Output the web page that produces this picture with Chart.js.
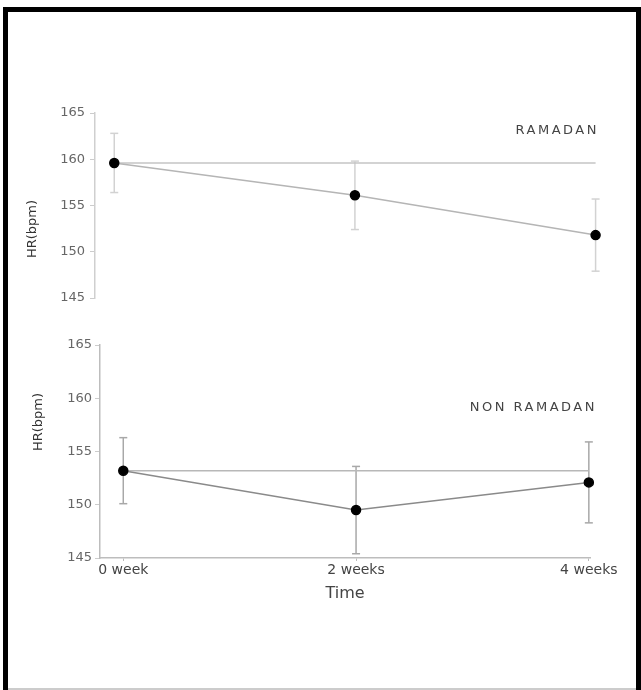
<!DOCTYPE html>
<html>
<head>
<meta charset="utf-8">
<script src="https://cdn.jsdelivr.net/npm/chart.js@4.4.0/dist/chart.umd.min.js"></script>
<style>
  body { margin: 0; background: #fff; }
  #marco { position: relative; width: 641px; height: 690px; background: #fff; overflow: hidden; }
  .borde { position: absolute; background: #000; }
  canvas { position: absolute; left: 0; }
  .texto { position: absolute; font-family: 'DejaVu Sans', sans-serif; color: #444; white-space: nowrap; line-height: 14px; }
  .grupo { font-size: 13px; letter-spacing: 2.5px; }
  .ejeY { font-size: 13px; color: #333; transform: translate(-50%, -50%) rotate(-90deg); }
</style>
</head>
<body>
<div id="marco">
  <div class="borde" style="left:3px; top:7px; width:638px; height:5px;"></div>
  <div class="borde" style="left:3px; top:7px; width:5px; height:683px;"></div>
  <div class="borde" style="left:636px; top:7px; width:5px; height:683px;"></div>
  <div class="borde" style="left:8px; top:688px; width:628px; height:2px; background:#ccc;"></div>

  <canvas id="graficaRamadan" width="641" height="212" style="top:100px;"></canvas>
  <canvas id="graficaNoRamadan" width="641" height="280" style="top:330px;"></canvas>

  <div class="texto grupo" style="right:42px; top:123px;">RAMADAN</div>
  <div class="texto grupo" style="right:44px; top:400px;">NON RAMADAN</div>
  <div class="texto ejeY" style="left:32px; top:229px;">HR(bpm)</div>
  <div class="texto ejeY" style="left:38px; top:422px;">HR(bpm)</div>
</div>
<script>
var semanas = [0, 2, 4];
var etiquetasTiempo = ['0 week', '2 weeks', '4 weeks'];
var ticksHR = [145, 150, 155, 160, 165];

var hrRamadan = [159.6, 156.1, 151.8];
var errRamadan = [3.2, 3.7, 3.9];

var hrNoRamadan = [153.2, 149.5, 152.1];
var errNoRamadan = [3.1, 4.1, 3.8];

Chart.defaults.font.family = "'DejaVu Sans', sans-serif";
Chart.defaults.color = '#555';

function crearPanel(idCanvas, medias, errores, estilo) {
    var datasets = [];

    // medias (va primero para que quede encima)
    datasets.push({
        data: semanas.map(function (s, i) { return { x: s, y: medias[i] }; }),
        borderColor: estilo.colorLinea,
        borderWidth: 1.5,
        pointRadius: 4.5,
        pointBackgroundColor: '#000',
        pointBorderColor: '#000',
        clip: false
    });

    // linea horizontal al valor de la semana 0
    datasets.push({
        data: [{ x: semanas[0], y: medias[0] }, { x: semanas[semanas.length - 1], y: medias[0] }],
        borderColor: estilo.colorBase,
        borderWidth: 1.5,
        pointRadius: 0,
        clip: false
    });

    // barras de error
    for (var i = 0; i < semanas.length; i++) {
        datasets.push({
            data: [{ x: semanas[i], y: medias[i] - errores[i] }, { x: semanas[i], y: medias[i] + errores[i] }],
            borderColor: estilo.colorError,
            borderWidth: 1.5,
            pointStyle: 'line',
            pointRadius: 4,
            pointBorderColor: estilo.colorError,
            pointBorderWidth: 1.5,
            clip: false
        });
    }

    var opciones = {
        responsive: false,
        animation: false,
        layout: { padding: estilo.padding },
        plugins: { legend: { display: false }, tooltip: { enabled: false } },
        scales: {
            x: {
                type: 'linear',
                min: estilo.xMin,
                max: estilo.xMax,
                display: estilo.mostrarX,
                afterBuildTicks: function (axis) {
                    axis.ticks = semanas.map(function (s) { return { value: s }; });
                },
                afterFit: function (axis) {
                    if (estilo.mostrarX) axis.height = 52;
                },
                ticks: {
                    font: { size: 14 },
                    color: '#444',
                    padding: 1,
                    maxRotation: 0,
                    callback: function (value) { return etiquetasTiempo[semanas.indexOf(value)]; }
                },
                grid: { drawOnChartArea: false, tickLength: 3, color: '#bbb' },
                border: { color: estilo.colorEje, width: 1.5 },
                title: { display: true, text: 'Time', font: { size: 16 }, color: '#444', padding: { top: 0, bottom: 7 } }
            },
            y: {
                type: 'linear',
                min: ticksHR[0],
                max: ticksHR[ticksHR.length - 1],
                afterBuildTicks: function (axis) {
                    axis.ticks = ticksHR.map(function (v) { return { value: v }; });
                },
                afterFit: function (axis) { axis.width = estilo.anchoY; },
                ticks: { font: { size: 13 }, color: '#666', padding: estilo.sepTicks },
                grid: { drawOnChartArea: false, tickLength: 5, color: '#ccc' },
                border: { color: estilo.colorEje, width: 1.5 }
            }
        }
    };

    var ctx = document.getElementById(idCanvas).getContext('2d');
    return new Chart(ctx, {
        type: 'line',
        data: { datasets: datasets },
        options: opciones
    });
}

crearPanel('graficaRamadan', hrRamadan, errRamadan, {
    padding: { top: 13, right: 43, bottom: 14, left: 0 },
    anchoY: 95,
    sepTicks: 5,
    xMin: -0.16,
    xMax: 4.02,
    mostrarX: false,
    colorLinea: '#b5b5b5',
    colorBase: '#c4c4c4',
    colorError: '#d2d2d2',
    colorEje: '#cfcfcf'
});

crearPanel('graficaNoRamadan', hrNoRamadan, errNoRamadan, {
    padding: { top: 15, right: 51, bottom: 0, left: 0 },
    anchoY: 100,
    sepTicks: 3,
    xMin: -0.2,
    xMax: 4.01,
    mostrarX: true,
    colorLinea: '#8a8a8a',
    colorBase: '#b8b8b8',
    colorError: '#a8a8a8',
    colorEje: '#bdbdbd'
});
</script>
</body>
</html>
